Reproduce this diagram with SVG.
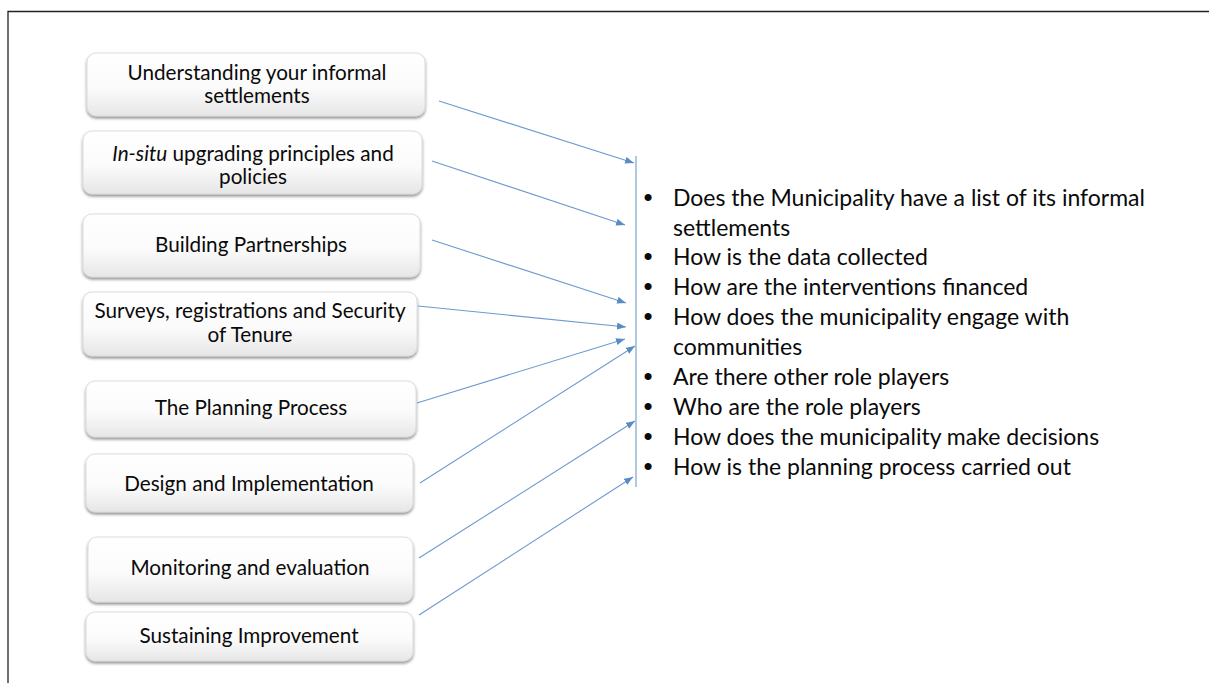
<svg xmlns="http://www.w3.org/2000/svg" width="1209" height="683" viewBox="0 0 1209 683">
  <defs>
    <linearGradient id="boxFill" x1="0" y1="0" x2="0" y2="1">
      <stop offset="0" stop-color="#ffffff"/>
      <stop offset="0.55" stop-color="#fbfbfb"/>
      <stop offset="1" stop-color="#e6e6e6"/>
    </linearGradient>
    <filter id="shadow" x="-5%" y="-10%" width="110%" height="130%">
      <feDropShadow dx="0" dy="2" stdDeviation="1.4" flood-color="#000" flood-opacity="0.45"/>
    </filter>
    <marker id="arrow" markerUnits="userSpaceOnUse" markerWidth="10" markerHeight="8" refX="9" refY="3.5" orient="auto">
      <path d="M0,0 L9,3.5 L0,7 z" fill="#5a8cc4"/>
    </marker>
  </defs>
  <style>
    .box { fill: url(#boxFill); stroke: #d6d6d6; stroke-width: 0.8; filter: url(#shadow); }
    .label { font-family: Lato, "Liberation Sans", sans-serif; font-size: 20.7px; fill: #0a0a0a; text-anchor: middle; }
    .item { font-family: Lato, "Liberation Sans", sans-serif; font-size: 23px; fill: #0a0a0a; }
    .dot { font-family: "Liberation Sans", sans-serif; font-size: 26px; fill: #0a0a0a; }
    .conn { stroke: #6b9bcf; stroke-width: 1.1; fill: none; marker-end: url(#arrow); }
    .frame { stroke: #222; stroke-width: 1.3; fill: none; }
  </style>

  <rect width="1209" height="683" fill="#fff"/>
  <!-- page frame -->
  <path class="frame" d="M8,683 V11.5 H1209"/>

  <g id="node-understanding">
    <rect class="box" x="87" y="53" width="338" height="63" rx="9"/>
    <text class="label" x="257" y="80">Understanding your informal</text>
    <text class="label" x="257" y="103">settlements</text>
  </g>
  <g id="node-insitu">
    <rect class="box" x="83" y="131" width="339" height="63" rx="9"/>
    <text class="label" x="253" y="161"><tspan font-style="italic">In-situ</tspan> upgrading principles and</text>
    <text class="label" x="253" y="184">policies</text>
  </g>
  <g id="node-partnerships">
    <rect class="box" x="83" y="214" width="337" height="63" rx="9"/>
    <text class="label" x="251" y="252">Building Partnerships</text>
  </g>
  <g id="node-surveys">
    <rect class="box" x="83" y="292" width="334" height="64" rx="9"/>
    <text class="label" x="250" y="318">Surveys, registrations and Security</text>
    <text class="label" x="250" y="342">of Tenure</text>
  </g>
  <g id="node-planning">
    <rect class="box" x="86" y="381" width="330" height="56" rx="9"/>
    <text class="label" x="251" y="415">The Planning Process</text>
  </g>
  <g id="node-design">
    <rect class="box" x="86" y="454" width="327" height="58" rx="9"/>
    <text class="label" x="249" y="491">Design and Implementation</text>
  </g>
  <g id="node-monitoring">
    <rect class="box" x="88" y="537" width="325" height="65" rx="9"/>
    <text class="label" x="250" y="575">Monitoring and evaluation</text>
  </g>
  <g id="node-sustaining">
    <rect class="box" x="86" y="612" width="327" height="49" rx="9"/>
    <text class="label" x="249" y="643">Sustaining Improvement</text>
  </g>

  <g id="connectors">
    <line x1="636" y1="156" x2="636" y2="487" stroke="#6b9bcf" stroke-width="1.1"/>
    <line class="conn" x1="439" y1="101" x2="634" y2="163"/>
    <line class="conn" x1="432" y1="161" x2="625" y2="225"/>
    <line class="conn" x1="432" y1="240" x2="626" y2="303"/>
    <line class="conn" x1="418" y1="306" x2="626" y2="327"/>
    <line class="conn" x1="417" y1="403" x2="625" y2="339"/>
    <line class="conn" x1="420" y1="483" x2="635" y2="346"/>
    <line class="conn" x1="419" y1="558" x2="635" y2="421"/>
    <line class="conn" x1="419" y1="615" x2="633" y2="477"/>
  </g>

  <g id="question-list">
    <text class="dot" x="643.5" y="206">•</text>
    <text class="item" x="673" y="206">Does the Municipality have a list of its informal</text>
    <text class="item" x="673" y="235.5">settlements</text>
    <text class="dot" x="643.5" y="265">•</text>
    <text class="item" x="673" y="265">How is the data collected</text>
    <text class="dot" x="643.5" y="295">•</text>
    <text class="item" x="673" y="295">How are the interventions financed</text>
    <text class="dot" x="643.5" y="325">•</text>
    <text class="item" x="673" y="325">How does the municipality engage with</text>
    <text class="item" x="673" y="355">communities</text>
    <text class="dot" x="643.5" y="384.5">•</text>
    <text class="item" x="673" y="384.5">Are there other role players</text>
    <text class="dot" x="643.5" y="414.5">•</text>
    <text class="item" x="673" y="414.5">Who are the role players</text>
    <text class="dot" x="643.5" y="444.5">•</text>
    <text class="item" x="673" y="444.5">How does the municipality make decisions</text>
    <text class="dot" x="643.5" y="474.5">•</text>
    <text class="item" x="673" y="474.5">How is the planning process carried out</text>
  </g>
</svg>
